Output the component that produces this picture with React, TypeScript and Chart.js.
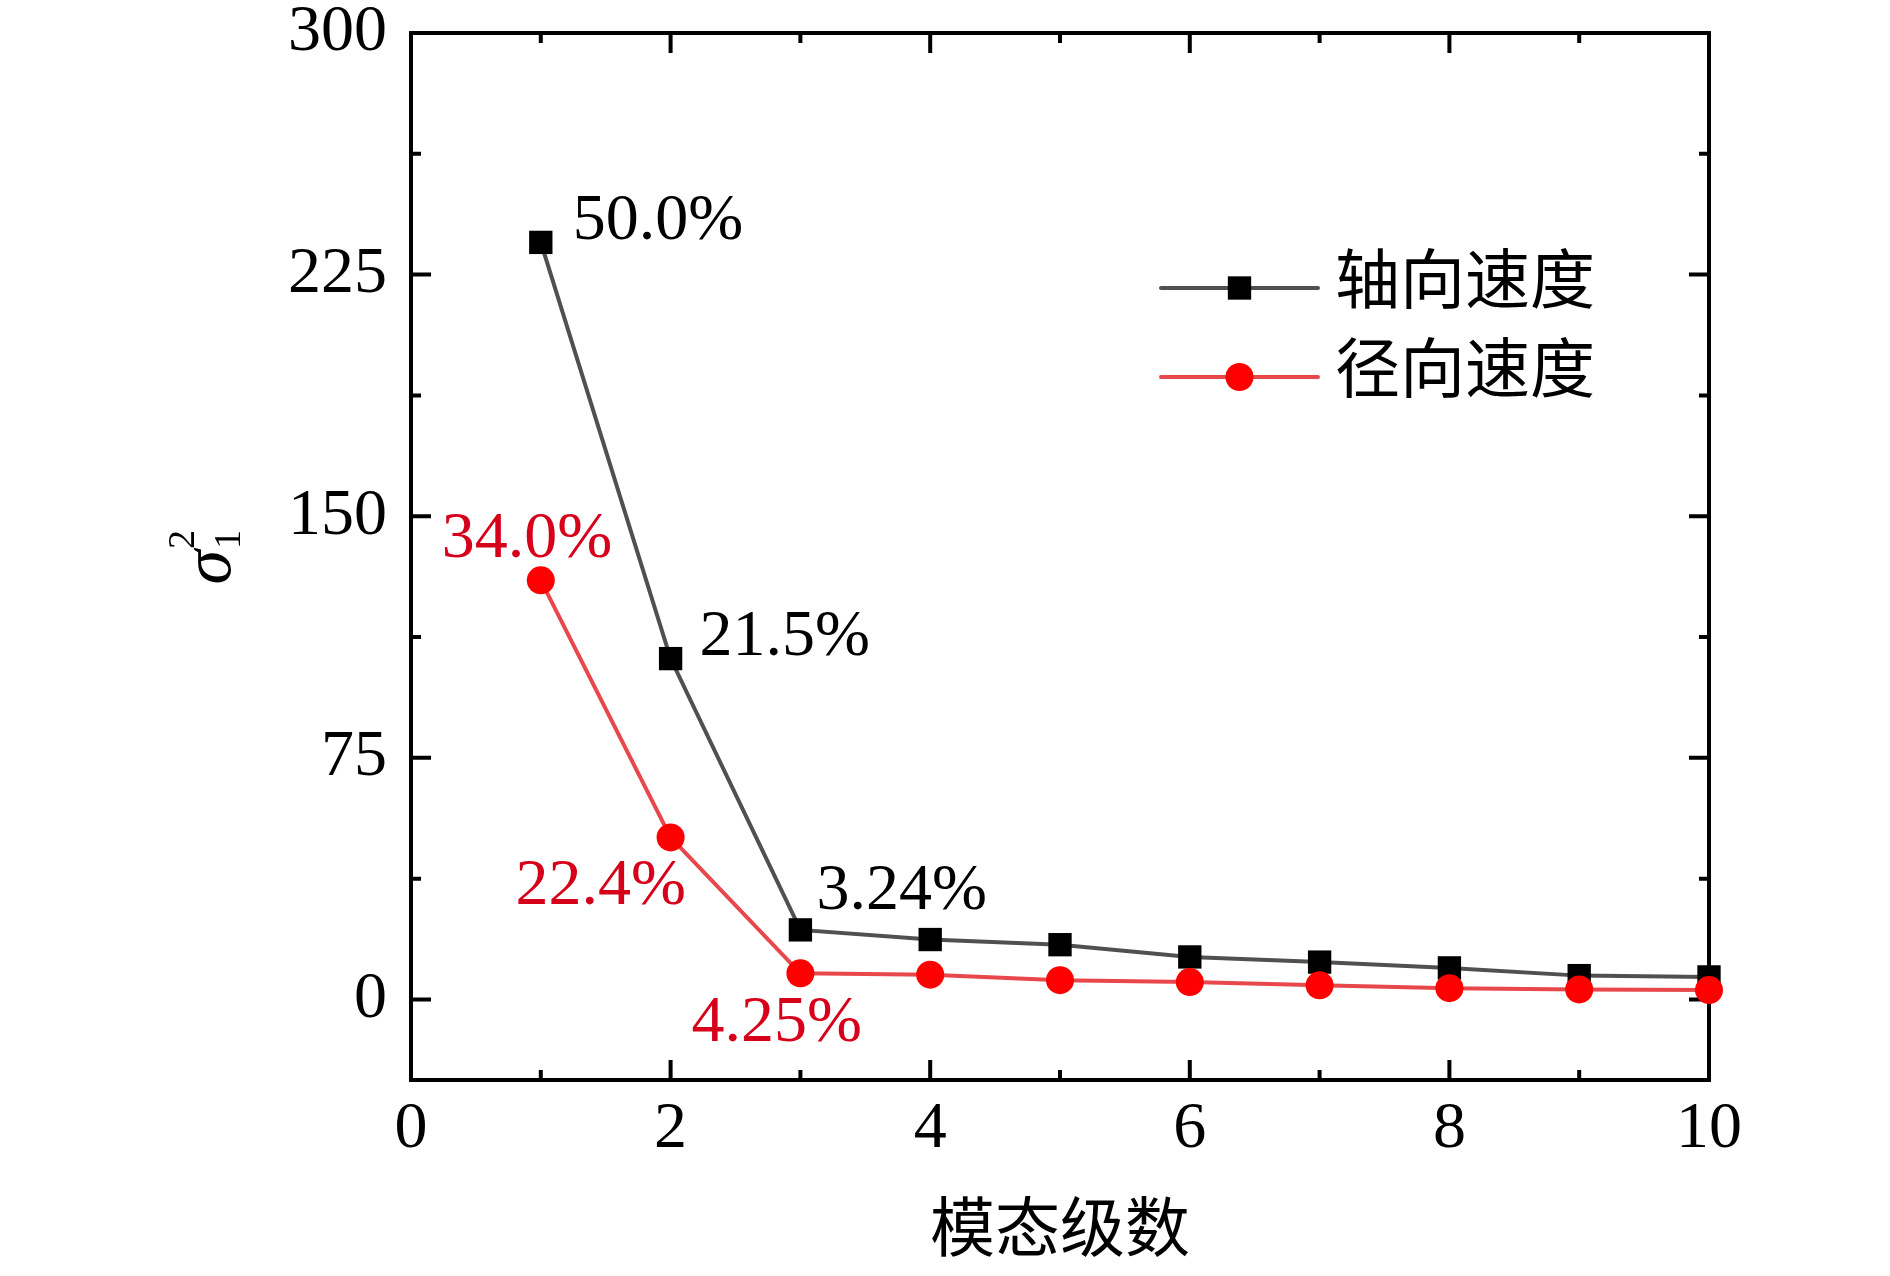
import React, { useEffect, useRef } from 'react';
import { Chart, registerables } from 'chart.js';

Chart.register(...registerables);

// ---------- data ----------
const modeNumbers = [1, 2, 3, 4, 5, 6, 7, 8, 9, 10];
const axialVelocity = [235.0, 105.8, 21.6, 18.6, 17.0, 13.2, 11.6, 9.8, 7.4, 7.0];
const radialVelocity = [130.1, 50.3, 8.1, 7.7, 6.0, 5.4, 4.4, 3.5, 3.1, 2.9];
const seriesNames = ['轴向速度', '径向速度'];
const axialShareLabels = ['50.0%', '21.5%', '3.24%'];
const radialShareLabels = ['34.0%', '22.4%', '4.25%'];
const xMajorTicks = [0, 2, 4, 6, 8, 10];
const xMinorTicks = [1, 3, 5, 7, 9];
const yMajorTicks = [0, 75, 150, 225, 300];
const yMinorTicks = [37.5, 112.5, 187.5, 262.5];
const xAxisTitle = '模态级数';

// ---------- styles ----------
const SERIF = '"Liberation Serif", "Times New Roman", serif';
const CJK = '"Liberation Serif", "Noto Sans CJK SC", serif';
const AXIAL_LINE = '#505050';
const AXIAL_MARK = '#000000';
const RADIAL_LINE = '#e8474b';
const RADIAL_MARK = '#ff0000';
const RADIAL_TEXT = '#d7001a';
// label offsets (px) relative to the point, text left/alphabetic
const axialLabelOffsets = [[32, -3], [29, -4], [16, -21]];
const radialLabelOffsets = [[-99, -23], [-155, 67], [-109, 68]];

const framePlugin = {
  id: 'frameTicks',
  beforeDatasetsDraw(chart: any) {
    const { ctx, chartArea: a, scales } = chart;
    const x = scales.x;
    const y = scales.y;
    ctx.save();
    ctx.strokeStyle = '#000';
    ctx.lineWidth = 4;
    ctx.lineCap = 'butt';
    ctx.beginPath();
    const xt = (v: number, len: number) => {
      const px = x.getPixelForValue(v);
      ctx.moveTo(px, a.bottom);
      ctx.lineTo(px, a.bottom - len);
      ctx.moveTo(px, a.top);
      ctx.lineTo(px, a.top + len);
    };
    const yt = (v: number, len: number) => {
      const py = y.getPixelForValue(v);
      ctx.moveTo(a.left, py);
      ctx.lineTo(a.left + len, py);
      ctx.moveTo(a.right, py);
      ctx.lineTo(a.right - len, py);
    };
    xMajorTicks.forEach((v) => xt(v, 20));
    xMinorTicks.forEach((v) => xt(v, 10));
    yMajorTicks.forEach((v) => yt(v, 20));
    yMinorTicks.forEach((v) => yt(v, 10));
    ctx.stroke();
    ctx.strokeRect(a.left, a.top, a.right - a.left, a.bottom - a.top);
    ctx.restore();
  },
};

const labelsPlugin = {
  id: 'shareLabels',
  afterDatasetsDraw(chart: any) {
    const { ctx } = chart;
    ctx.save();
    ctx.font = `66px ${SERIF}`;
    ctx.textAlign = 'left';
    ctx.textBaseline = 'alphabetic';
    const draw = (dsIndex: number, labels: string[], offs: number[][], color: string) => {
      const meta = chart.getDatasetMeta(dsIndex);
      ctx.fillStyle = color;
      labels.forEach((t, i) => {
        const el = meta.data[i];
        ctx.fillText(t, el.x + offs[i][0], el.y + offs[i][1]);
      });
    };
    draw(0, axialShareLabels, axialLabelOffsets, '#000');
    draw(1, radialShareLabels, radialLabelOffsets, RADIAL_TEXT);
    ctx.restore();
  },
};

const legendPlugin = {
  id: 'customLegend',
  afterDatasetsDraw(chart: any) {
    const { ctx, chartArea: a } = chart;
    ctx.save();
    chart.data.datasets.forEach((ds: any, i: number) => {
      const y0 = a.top + 255 + i * 89;
      const x0 = a.left + 750;
      const x1 = a.left + 907;
      const xm = (x0 + x1) / 2;
      ctx.strokeStyle = ds.borderColor;
      ctx.lineWidth = ds.borderWidth;
      ctx.lineCap = 'round';
      ctx.beginPath();
      ctx.moveTo(x0, y0);
      ctx.lineTo(x1, y0);
      ctx.stroke();
      ctx.fillStyle = ds.pointBackgroundColor;
      if (ds.pointStyle === 'rect') {
        const s = ds.pointRadius * Math.SQRT1_2;
        ctx.fillRect(xm - s, y0 - s, 2 * s, 2 * s);
      } else {
        ctx.beginPath();
        ctx.arc(xm, y0, ds.pointRadius, 0, Math.PI * 2);
        ctx.fill();
      }
      ctx.fillStyle = '#000';
      ctx.font = `65px ${CJK}`;
      ctx.textAlign = 'left';
      ctx.textBaseline = 'middle';
      ctx.fillText(ds.label, x1 + 17, y0 - 2);
    });
    ctx.restore();
  },
};

const yTitlePlugin = {
  id: 'yTitle',
  afterDraw(chart: any) {
    const { ctx, chartArea: a } = chart;
    const cy = (a.top + a.bottom) / 2;
    ctx.save();
    ctx.translate(230, cy + 28);
    ctx.rotate(-Math.PI / 2);
    ctx.fillStyle = '#000';
    ctx.textAlign = 'left';
    ctx.textBaseline = 'alphabetic';
    ctx.font = `italic 70px ${SERIF}`;
    ctx.fillText('σ', 0, 0);
    const w = ctx.measureText('σ').width;
    ctx.font = `38px ${SERIF}`;
    ctx.fillText('2', w + 1, -36);
    ctx.fillText('1', w + 1, 10);
    ctx.restore();
  },
};

export default function App() {
  const ref = useRef<HTMLCanvasElement | null>(null);
  useEffect(() => {
    if (!ref.current) return;
    const chart = new Chart(ref.current, {
      type: 'line',
      data: {
        datasets: [
          {
            label: seriesNames[0],
            data: modeNumbers.map((m, i) => ({ x: m, y: axialVelocity[i] })),
            borderColor: AXIAL_LINE,
            borderWidth: 4,
            pointStyle: 'rect',
            pointRadius: 16.5,
            pointBackgroundColor: AXIAL_MARK,
            pointBorderWidth: 0,
            pointBorderColor: AXIAL_MARK,
            tension: 0,
            clip: false,
            order: 2,
          },
          {
            label: seriesNames[1],
            data: modeNumbers.map((m, i) => ({ x: m, y: radialVelocity[i] })),
            borderColor: RADIAL_LINE,
            borderWidth: 4,
            pointStyle: 'circle',
            pointRadius: 14,
            pointBackgroundColor: RADIAL_MARK,
            pointBorderWidth: 0,
            pointBorderColor: RADIAL_MARK,
            tension: 0,
            clip: false,
            order: 1,
          },
        ] as any,
      },
      options: {
        animation: false,
        responsive: false,
        devicePixelRatio: 1,
        layout: { padding: { top: 33, right: 181, bottom: 0, left: 0 } },
        plugins: {
          legend: { display: false },
          tooltip: { enabled: false },
          title: { display: false },
        },
        scales: {
          x: {
            type: 'linear',
            min: 0,
            max: 10,
            afterBuildTicks: (s: any) => {
              s.ticks = xMajorTicks.map((v) => ({ value: v }));
            },
            afterFit: (s: any) => {
              s.height = 196;
            },
            grid: { display: false, drawTicks: false },
            border: { display: false },
            ticks: {
              autoSkip: false,
              maxRotation: 0,
              padding: 17,
              color: '#000',
              font: { family: SERIF, size: 66, lineHeight: 1 },
            },
            title: {
              display: true,
              text: xAxisTitle,
              color: '#000',
              font: { family: CJK, size: 65, lineHeight: 1 },
              padding: { top: 0, bottom: 10 },
            },
          },
          y: {
            type: 'linear',
            min: -25,
            max: 300,
            afterBuildTicks: (s: any) => {
              s.ticks = yMajorTicks.map((v) => ({ value: v }));
            },
            afterFit: (s: any) => {
              s.width = 411;
              s.paddingTop = 0;
              s.paddingBottom = 0;
            },
            grid: { display: false, drawTicks: false },
            border: { display: false },
            ticks: {
              autoSkip: false,
              padding: 24,
              color: '#000',
              font: { family: SERIF, size: 66, lineHeight: 0.4 },
            },
          },
        },
      } as any,
      plugins: [framePlugin, labelsPlugin, legendPlugin, yTitlePlugin],
    });
    return () => chart.destroy();
  }, []);
  return (
    <div style={{ position: 'fixed', left: 0, top: 0, width: 1890, height: 1276, background: '#fff' }}>
      <canvas ref={ref} width={1890} height={1276} style={{ width: 1890, height: 1276, display: 'block' }} />
    </div>
  );
}
